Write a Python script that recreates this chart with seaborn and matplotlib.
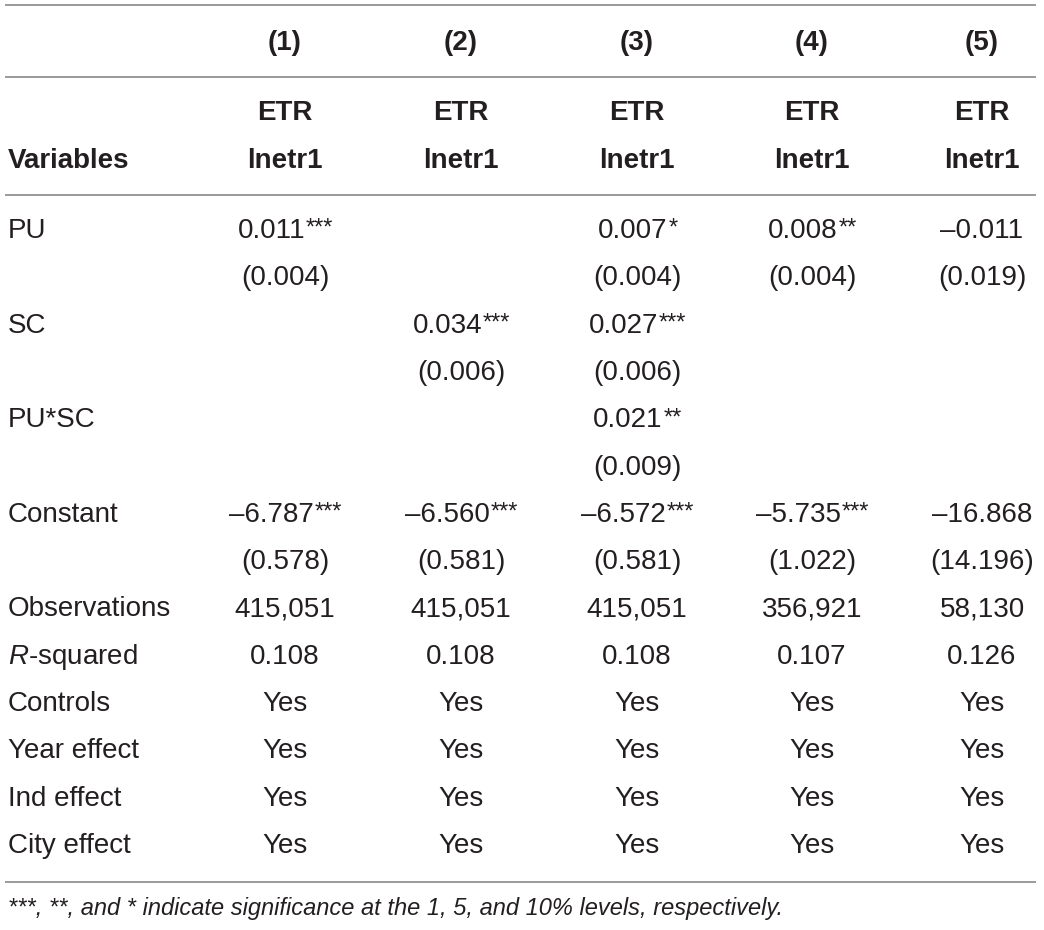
import matplotlib
matplotlib.use("Agg")
import matplotlib.pyplot as plt
import seaborn as sns

# ---------------- data ----------------
col_labels = ["(1)", "(2)", "(3)", "(4)", "(5)"]
dep_var = ["ETR", "ETR", "ETR", "ETR", "ETR"]
dep_name = ["lnetr1", "lnetr1", "lnetr1", "lnetr1", "lnetr1"]
stub_header = "Variables"

row_names = ["PU", "", "SC", "", "PU*SC", "", "Constant", "",
             "Observations", "$\\mathit{R}$-squared", "Controls",
             "Year effect", "Ind effect", "City effect"]

pu_coef = ["0.011***", "", "0.007*", "0.008**", "\u20130.011"]
pu_se = ["(0.004)", "", "(0.004)", "(0.004)", "(0.019)"]
sc_coef = ["", "0.034***", "0.027***", "", ""]
sc_se = ["", "(0.006)", "(0.006)", "", ""]
pusc_coef = ["", "", "0.021**", "", ""]
pusc_se = ["", "", "(0.009)", "", ""]
const_coef = ["\u20136.787***", "\u20136.560***", "\u20136.572***", "\u20135.735***", "\u201316.868"]
const_se = ["(0.578)", "(0.581)", "(0.581)", "(1.022)", "(14.196)"]
observations = ["415,051", "415,051", "415,051", "356,921", "58,130"]
r_squared = ["0.108", "0.108", "0.108", "0.107", "0.126"]
controls = ["Yes"] * 5
year_effect = ["Yes"] * 5
ind_effect = ["Yes"] * 5
city_effect = ["Yes"] * 5

body = [pu_coef, pu_se, sc_coef, sc_se, pusc_coef, pusc_se, const_coef,
        const_se, observations, r_squared, controls, year_effect,
        ind_effect, city_effect]

footnote = ("***, **, and * indicate significance at the 1, 5, and 10% "
            "levels, respectively.")

# ---------------- layout ----------------
sns.set_theme(style="white")
plt.rcParams["font.family"] = ["Liberation Sans", "DejaVu Sans"]
plt.rcParams["mathtext.fontset"] = "custom"
plt.rcParams["mathtext.rm"] = "Liberation Sans"
plt.rcParams["mathtext.it"] = "Liberation Sans:italic"

W, H = 1044, 930
fig = plt.figure(figsize=(W / 100, H / 100), dpi=100)
ax = fig.add_axes([0, 0, 1, 1])
ax.set_xlim(0, W)
ax.set_ylim(H, 0)
ax.axis("off")

TXT = "#231f20"
LINE = "#9a9a9a"
FS = 20
SFS = 17

col_x = [285, 461, 637, 812, 982]
left_x = 8
y_head = 43
y_dep1 = 113
y_dep2 = 161
y_rows = [231 + 47.3 * i for i in range(len(row_names))]
y_foot = 908
line_ys = [5, 77, 195, 882]

for ly in line_ys:
    ax.plot([5, 1036], [ly, ly], color=LINE, lw=1.4, solid_capstyle="butt")

for x, lab, d1, d2 in zip(col_x, col_labels, dep_var, dep_name):
    ax.text(x, y_head, lab, ha="center", va="center", fontsize=FS,
            fontweight="bold", color=TXT)
    ax.text(x, y_dep1, d1, ha="center", va="center", fontsize=FS,
            fontweight="bold", color=TXT)
    ax.text(x, y_dep2, d2, ha="center", va="center", fontsize=FS,
            fontweight="bold", color=TXT)
ax.text(left_x, y_dep2, stub_header, ha="left", va="center", fontsize=FS,
        fontweight="bold", color=TXT)

fig.canvas.draw()
renderer = fig.canvas.get_renderer()

for y, name, row in zip(y_rows, row_names, body):
    if name:
        ax.text(left_x, y, name, ha="left", va="center", fontsize=FS, color=TXT)
    for x, val in zip(col_x, row):
        if not val:
            continue
        base = val.rstrip("*")
        stars = val[len(base):]
        t = ax.text(x, y, base, ha="left", va="center", fontsize=FS, color=TXT)
        wb = t.get_window_extent(renderer).width
        if stars:
            s = ax.text(x, y - 2, stars, ha="left", va="center",
                        fontsize=SFS, color=TXT)
            ws = s.get_window_extent(renderer).width
        else:
            ws = 0
        x0 = x - (wb + ws) / 2
        t.set_x(x0)
        if stars:
            s.set_x(x0 + wb + 1)

ax.text(left_x, y_foot, footnote, ha="left", va="center", fontsize=17,
        style="italic", color=TXT)

fig.savefig("out.png", dpi=100, facecolor="white")
